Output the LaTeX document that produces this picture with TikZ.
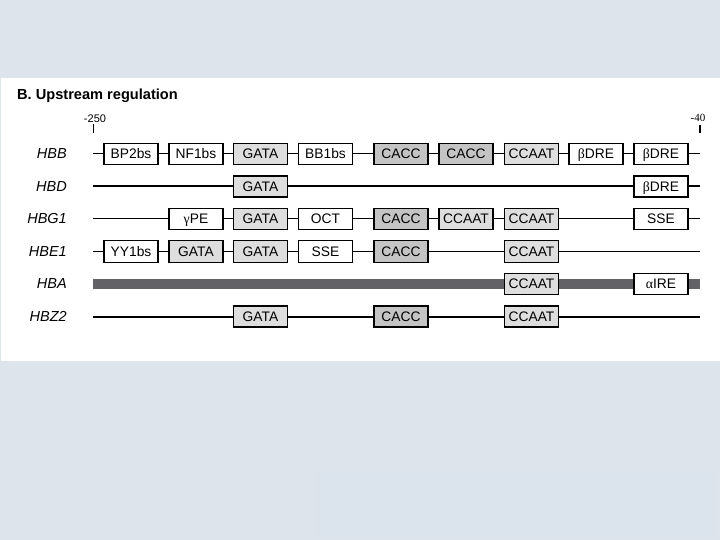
\documentclass[tikz,border=0pt]{standalone}
\usepackage{fontspec}
\setmainfont{Liberation Sans}
\newfontfamily\grk{Liberation Serif}

\definecolor{sfondo}{RGB}{221,228,236}
\definecolor{riquadro}{RGB}{219,227,237}
\definecolor{chiaro}{RGB}{222,222,222}
\definecolor{scuro}{RGB}{196,196,196}
\definecolor{barra}{RGB}{98,98,102}

\tikzset{
  bordo/.style={},
  sito/.style={draw=black, line width=1.2pt, minimum width=54pt,
    minimum height=21.5pt, inner sep=0pt, text height=9.8pt, text depth=0pt,
    font=\fontsize{13.8}{14}\selectfont, bordo},
  bianco/.style={sito, fill=white},
  gata/.style={sito, fill=chiaro},
  cacc/.style={sito, fill=scuro},
  gene/.style={anchor=east, inner sep=0pt, font=\fontsize{14.5}{16}\selectfont\itshape},
}

\begin{document}
\begin{tikzpicture}[x=1pt, y=-1pt]

% Sfondo e riquadro bianco
\fill[sfondo] (0,0) rectangle (720,540);
\useasboundingbox (0,0) rectangle (720,540);
\fill[white] (1,78) rectangle (720,361);
\fill[riquadro] (315,473) rectangle (715,538);

% Titolo
\node[anchor=base west, inner sep=0pt, font=\fontsize{14.6}{16}\selectfont\bfseries]
  (titolo) at (17,99.5) {B. Upstream regulation};

% Scala: -250 e -40
\node[font=\fontsize{11}{12}\selectfont, inner sep=0pt] (p250) at (95,119) {-250};
\coordinate (t250) at (93,133);
\draw[line width=0.8pt] (t250) -- ++(0,-9);
\node[font=\grk\fontsize{11}{12}\selectfont, inner sep=0pt] (p40) at (698,118) {-40};
\coordinate (t40) at (699.5,133);
\draw[line width=2pt] (t40) -- ++(0,-8);

% HBB
\node[gene] (hbb) at (67,154) {HBB};
\coordinate (hbb-a) at (93,154);
\coordinate (hbb-b) at (700,154);
\draw[line width=1pt] (hbb-a) -- (hbb-b);
\foreach \x/\stile/\testo [count=\i] in {131/bianco/BP2bs, 196/bianco/NF1bs,
    260.5/gata/GATA, 325.5/bianco/BB1bs, 401/cacc/CACC, 466/cacc/CACC,
    531.5/gata/CCAAT, 596/bianco/{\grk β}DRE, 661/bianco/{\grk β}DRE} {
  \node[\stile] (hbb-\i) at (\x,154) {\testo};
}

% HBD
\node[gene] (hbd) at (67,186.5) {HBD};
\coordinate (hbd-a) at (93,186.5);
\coordinate (hbd-b) at (700,186.5);
\draw[line width=2pt] (hbd-a) -- (hbd-b);
\begin{scope}[bordo/.style={line width=1.6pt}]
\foreach \x/\stile/\testo [count=\i] in {260.5/gata/GATA,
    661/bianco/{\grk β}DRE} {
  \node[\stile] (hbd-\i) at (\x,186.5) {\testo};
}
\end{scope}

% HBG1
\node[gene] (hbg) at (67,219) {HBG1};
\coordinate (hbg-a) at (93,219);
\coordinate (hbg-b) at (700,219);
\draw[line width=1pt] (hbg-a) -- (hbg-b);
\foreach \x/\stile/\testo [count=\i] in {196/bianco/{\grk γ}PE,
    260.5/gata/GATA, 325.5/bianco/OCT, 401/cacc/CACC, 466/gata/CCAAT,
    531.5/gata/CCAAT, 661/bianco/SSE} {
  \node[\stile] (hbg-\i) at (\x,219) {\testo};
}

% HBE1
\node[gene] (hbe) at (67,251.5) {HBE1};
\coordinate (hbe-a) at (93,251.5);
\coordinate (hbe-b) at (700,251.5);
\draw[line width=1pt] (hbe-a) -- (hbe-b);
\foreach \x/\stile/\testo [count=\i] in {131/bianco/YY1bs, 196/gata/GATA,
    260.5/gata/GATA, 325.5/bianco/SSE, 401/cacc/CACC, 531.5/gata/CCAAT} {
  \node[\stile] (hbe-\i) at (\x,251.5) {\testo};
}

% HBA (barra grigia)
\node[gene] (hba) at (67,284) {HBA};
\coordinate (hba-a) at (93,284);
\coordinate (hba-b) at (700,284);
\draw[barra, line width=10pt] (hba-a) -- (hba-b);
\begin{scope}[bordo/.style={line width=1.4pt}]
\foreach \x/\stile/\testo [count=\i] in {531.5/gata/CCAAT,
    661/bianco/{\grk α}IRE} {
  \node[\stile] (hba-\i) at (\x,284) {\testo};
}
\end{scope}

% HBZ2
\node[gene] (hbz) at (67,316.5) {HBZ2};
\coordinate (hbz-a) at (93,316.5);
\coordinate (hbz-b) at (700,316.5);
\draw[line width=2pt] (hbz-a) -- (hbz-b);
\begin{scope}[bordo/.style={line width=1.6pt}]
\foreach \x/\stile/\testo [count=\i] in {260.5/gata/GATA, 401/cacc/CACC,
    531.5/gata/CCAAT} {
  \node[\stile] (hbz-\i) at (\x,316.5) {\testo};
}
\end{scope}

\end{tikzpicture}
\end{document}
